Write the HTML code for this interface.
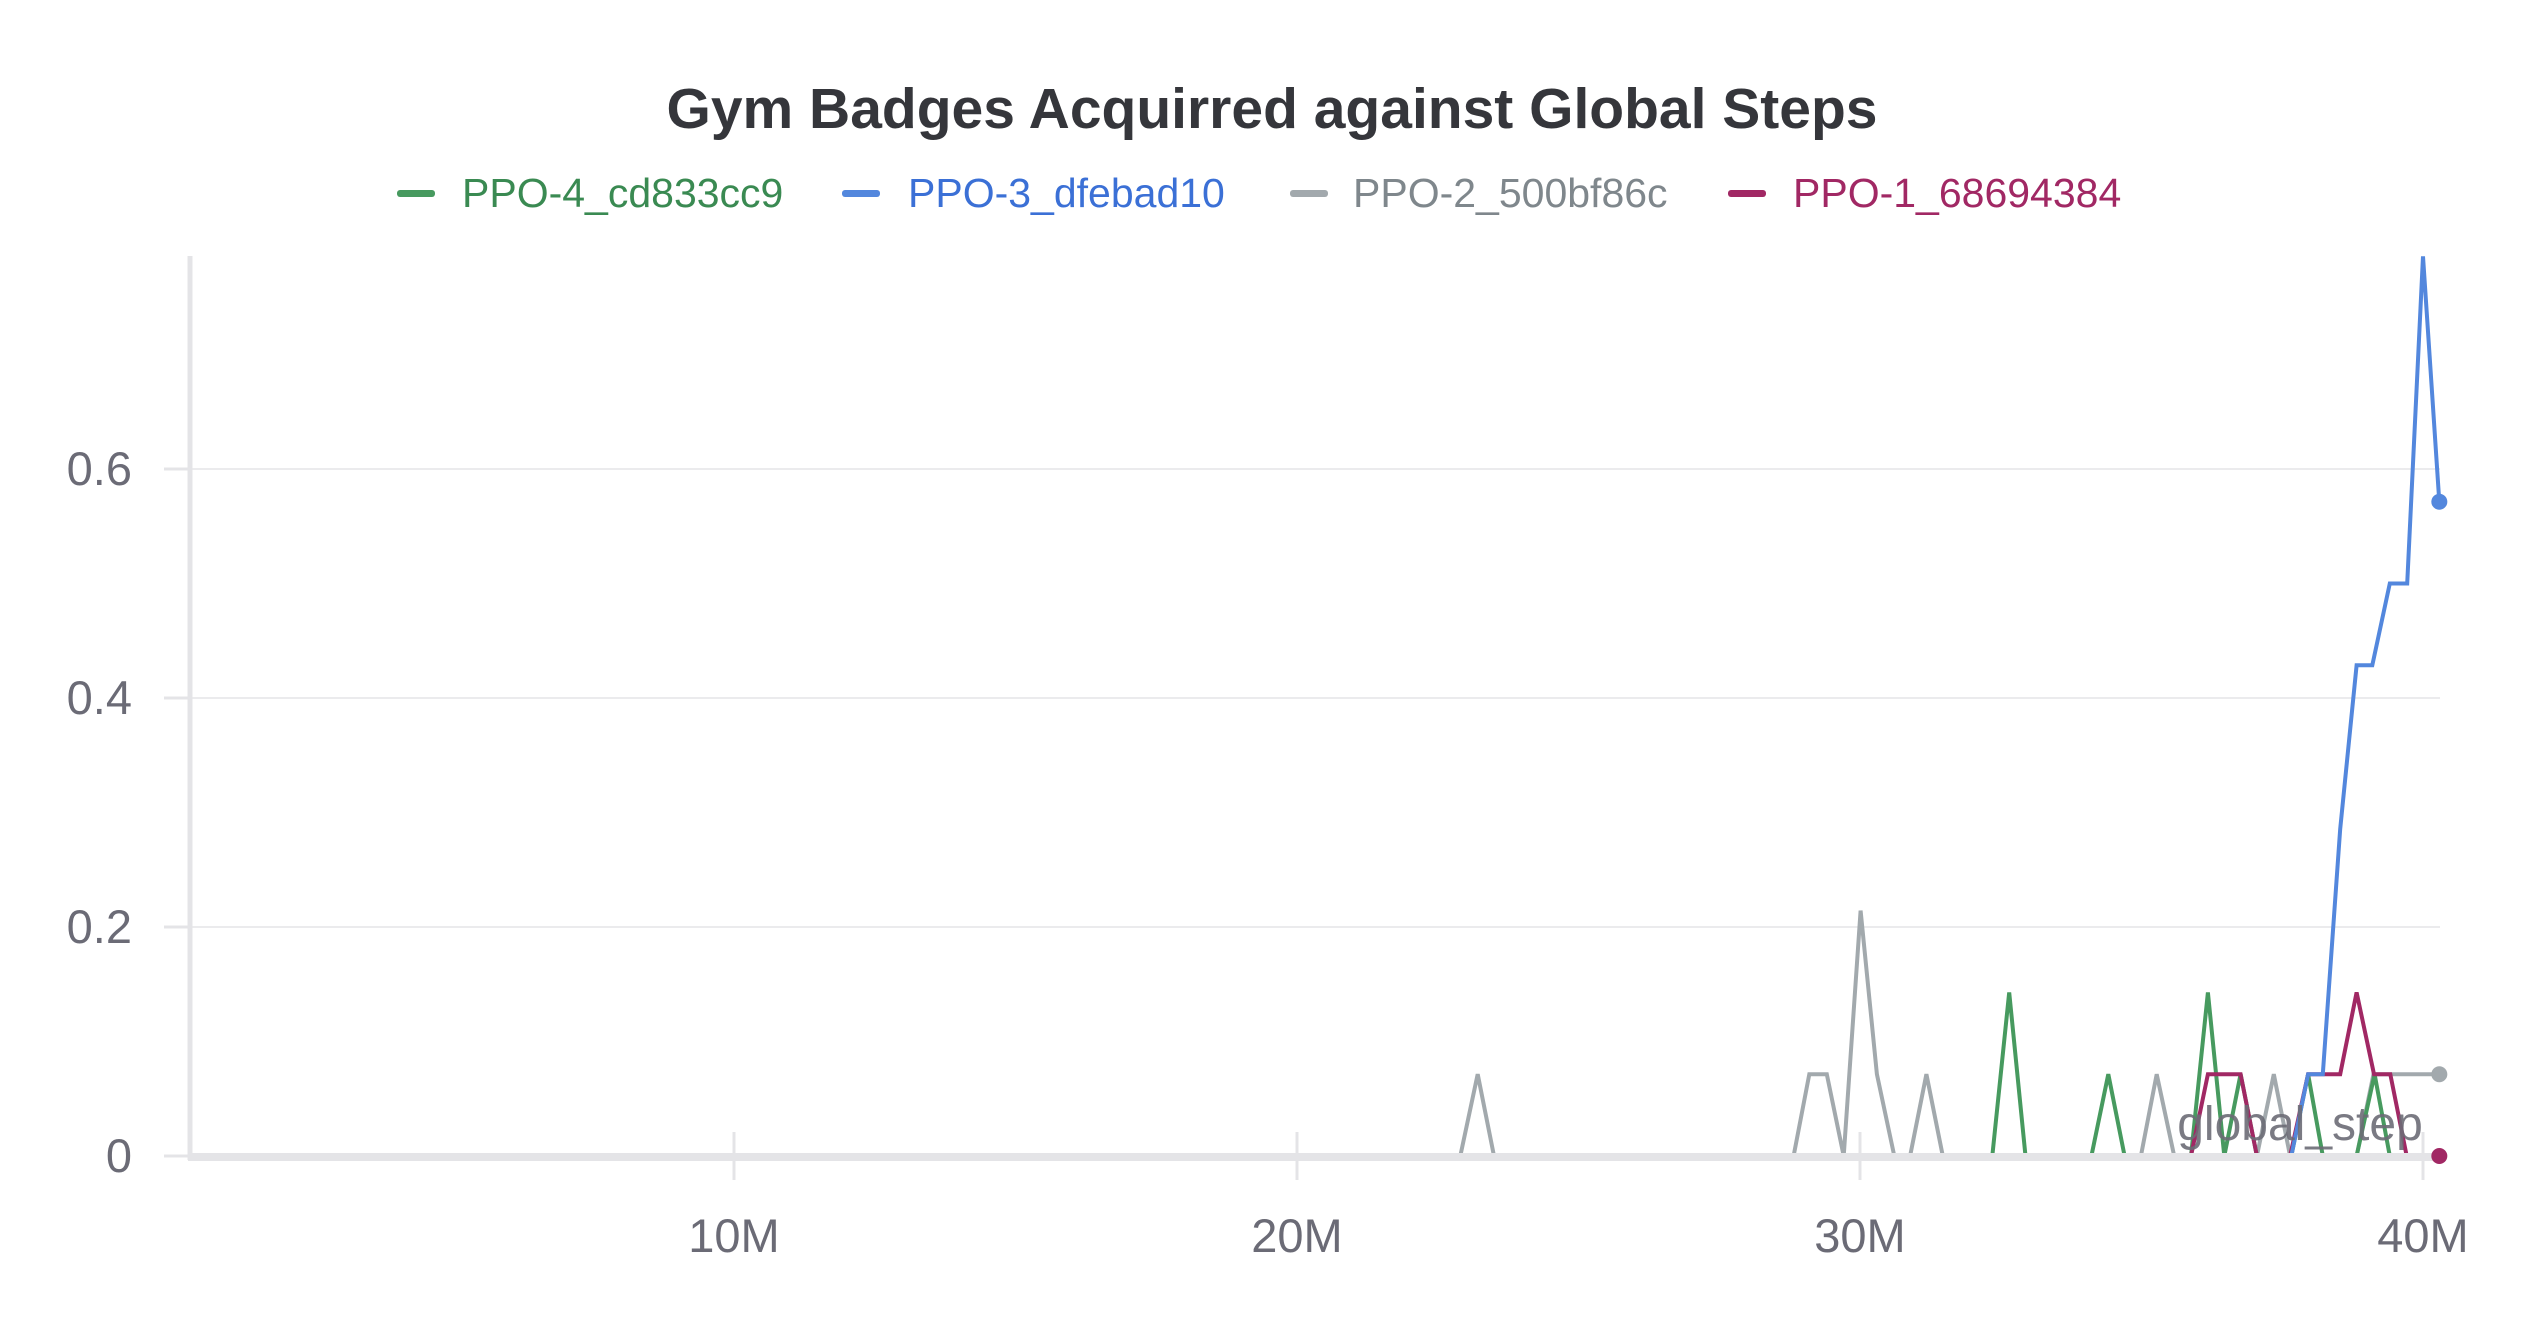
<!DOCTYPE html>
<html><head><meta charset="utf-8"><style>
html,body{margin:0;padding:0;background:#fff;}
svg{display:block;font-family:"Liberation Sans",sans-serif;}
</style></head><body>
<svg id="chart" width="2528" height="1328" viewBox="0 0 2528 1328" xmlns="http://www.w3.org/2000/svg">
<text x="1272" y="128" text-anchor="middle" font-size="57" font-weight="bold" fill="#35363b">Gym Badges Acquirred against Global Steps</text>
<g>
<g><rect x="397" y="190" width="38" height="7" rx="3" fill="#479a5f"/><text x="462" y="207" font-size="41" fill="#3a8a52">PPO-4_cd833cc9</text></g>
<g><rect x="842" y="190" width="38" height="7" rx="3" fill="#5387dd"/><text x="908" y="207" font-size="41" fill="#3b70d6">PPO-3_dfebad10</text></g>
<g><rect x="1290" y="190" width="38" height="7" rx="3" fill="#a2a9ad"/><text x="1353" y="207" font-size="41" fill="#7f878c">PPO-2_500bf86c</text></g>
<g><rect x="1728" y="190" width="38" height="7" rx="3" fill="#a12864"/><text x="1793" y="207" font-size="41" fill="#a12864">PPO-1_68694384</text></g>
</g>
<g id="grid"></g>
<g id="series"></g>
<g id="axes"></g>
</svg>
<script>
const xTicks = [10, 20, 30, 40];
const xTickLabels = ["10M", "20M", "30M", "40M"];
const yTicks = [0, 0.2, 0.4, 0.6];
const yTickLabels = ["0", "0.2", "0.4", "0.6"];
const seriesNames = ["PPO-2_500bf86c", "PPO-4_cd833cc9", "PPO-1_68694384", "PPO-3_dfebad10"];
const seriesColors = ["#a2a9ad", "#479a5f", "#a12864", "#5387dd"];
const grayX = [0.3,22.9,23.21,23.5,28.82,29.10,29.41,29.71,30.01,30.30,30.61,30.89,31.18,31.47,34.99,35.27,35.58,37.05,37.35,37.64,38.82,39.12,40.29];
const grayY = [0,0,0.0714,0,0,0.0714,0.0714,0,0.2143,0.0714,0,0,0.0714,0,0,0.0714,0,0,0.0714,0,0,0.0714,0.0714];
const greenX = [0.3,32.35,32.65,32.94,34.11,34.41,34.70,35.88,36.18,36.47,36.76,37.05,37.66,37.96,38.22,38.82,39.14,39.41];
const greenY = [0,0,0.1429,0,0,0.0714,0,0,0.1429,0,0.0714,0,0,0.0714,0,0,0.0714,0];
const magentaX = [0.3,35.88,36.18,36.76,37.05,37.64,37.96,38.53,38.82,39.13,39.42,39.71,40.29];
const magentaY = [0,0,0.0714,0.0714,0,0,0.0714,0.0714,0.1429,0.0714,0.0714,0,0];
const blueX = [0.3,37.66,37.96,38.22,38.53,38.82,39.10,39.41,39.72,40.0,40.29];
const blueY = [0,0,0.0714,0.0714,0.2857,0.4286,0.4286,0.5,0.5,0.7857,0.5714];

const NS = "http://www.w3.org/2000/svg";
const X0 = 171, XPER = 56.3, Y0 = 1156, YPER = 1145;
function xs(v){ return X0 + v * XPER; }
function ys(v){ return Y0 - v * YPER; }
function mk(tag, attrs, parent){ const e = document.createElementNS(NS, tag); for (const k in attrs) e.setAttribute(k, attrs[k]); parent.appendChild(e); return e; }

const grid = document.getElementById("grid");
const axes = document.getElementById("axes");
yTicks.forEach((t, i) => {
  if (t > 0) {
    const g = mk("line", {x1: 190, x2: 2440, y1: ys(t), y2: ys(t), stroke: "#ebebed", "stroke-width": 2}, grid);
    
    
  }
  const tk = mk("line", {x1: 164, x2: 190, y1: ys(t), y2: ys(t), stroke: "#e4e4e7", "stroke-width": 3}, grid);
  
  
  const lb = mk("text", {x: 132, y: ys(t) + 16, "text-anchor": "end", "font-size": 47, fill: "#6b6b76"}, grid);
  lb.textContent = yTickLabels[i];
  
  
});
xTicks.forEach((t, i) => {
  const tk = mk("line", {x1: xs(t), x2: xs(t), y1: 1132, y2: 1180, stroke: "#e4e4e7", "stroke-width": 3}, grid);
  
  
  const lb = mk("text", {x: xs(t), y: 1252, "text-anchor": "middle", "font-size": 47, fill: "#6b6b76"}, grid);
  lb.textContent = xTickLabels[i];
  
  
});

const ser = document.getElementById("series");
const allX = [grayX, greenX, magentaX, blueX];
const allY = [grayY, greenY, magentaY, blueY];
const dots = [true, false, true, true];
allX.forEach((xsArr, si) => {
  const ysArr = allY[si];
  const pts = xsArr.map((v, i) => xs(v).toFixed(1) + "," + ys(ysArr[i]).toFixed(1)).join(" ");
  const pl = mk("polyline", {points: pts, fill: "none", stroke: seriesColors[si], "stroke-width": 4, "stroke-linejoin": "miter"}, ser);
  
  
});

const ya = mk("line", {x1: 190, x2: 190, y1: 256, y2: 1160, stroke: "#e4e4e7", "stroke-width": 5}, axes);


const xa = mk("line", {x1: 188, x2: 2440, y1: 1157, y2: 1157, stroke: "#e4e4e7", "stroke-width": 8}, axes);


allX.forEach((xsArr, si) => {
  if (!dots[si]) return;
  const ysArr = allY[si];
  const n = xsArr.length - 1;
  const c = mk("circle", {cx: xs(xsArr[n]), cy: ys(ysArr[n]), r: 8, fill: seriesColors[si]}, axes);
  
  
});
const gl = mk("text", {x: 2300, y: 1140, "text-anchor": "middle", "font-size": 48, fill: "#6b6b76", "fill-opacity": 0.9}, axes);
gl.textContent = "global_step";


</script>
</body></html>
